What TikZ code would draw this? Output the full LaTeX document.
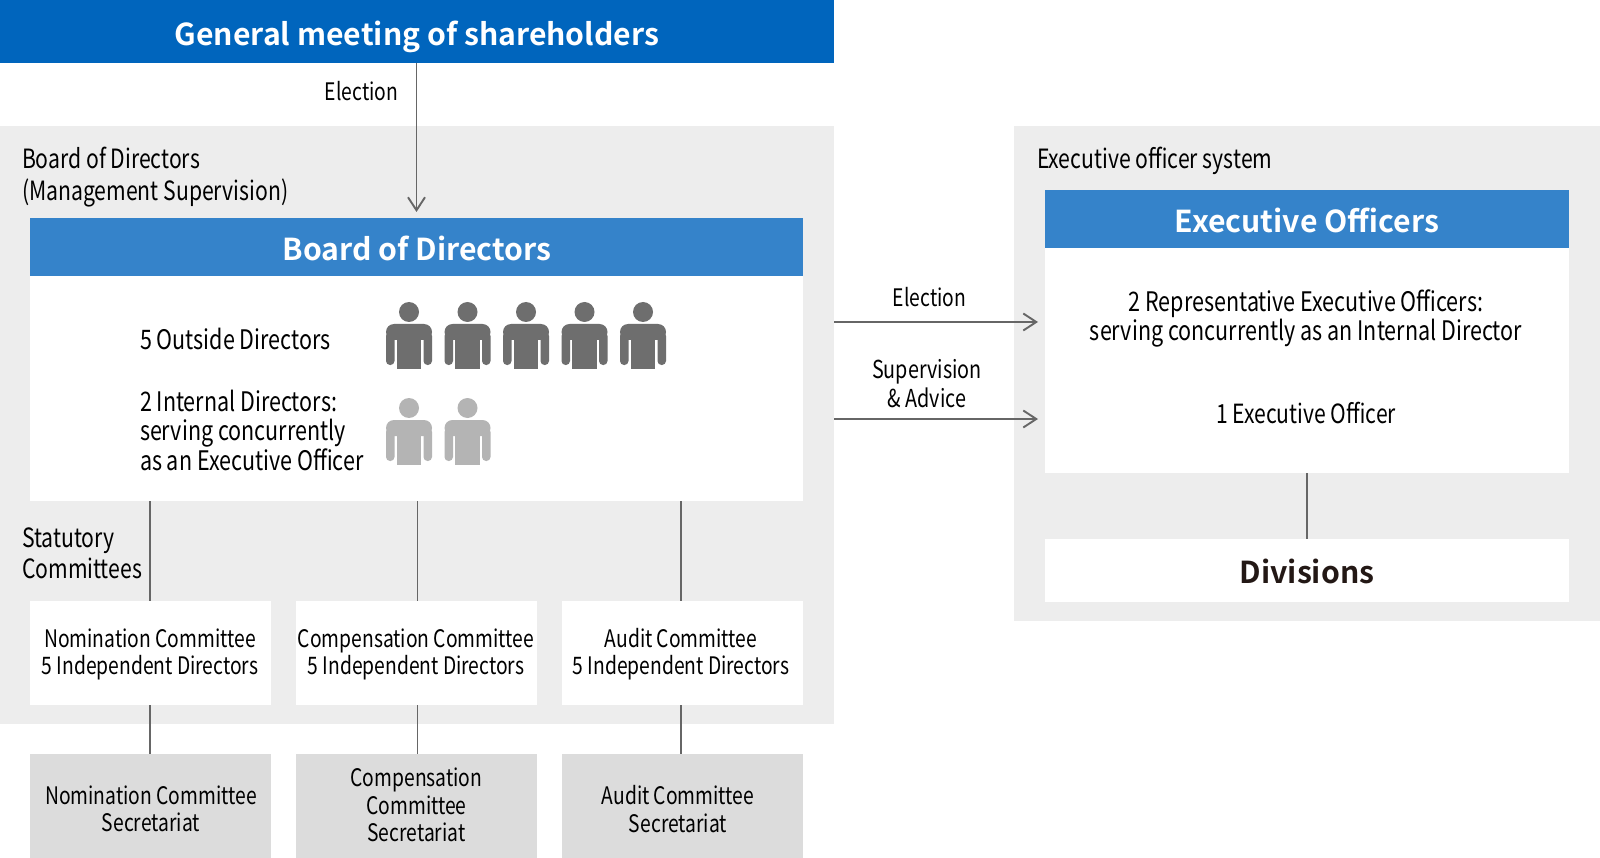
\documentclass[tikz,border=0pt]{standalone}
\usepackage{fontspec}
\usetikzlibrary{arrows.meta}
\setmainfont{Noto Sans CJK JP}[FakeStretch=0.8]
\newfontfamily\headfont{Noto Sans CJK JP}[BoldFont={Noto Sans CJK JP Bold}]
\definecolor{topblue}{HTML}{0065BD}
\definecolor{midblue}{HTML}{3583CA}
\definecolor{panelgray}{HTML}{EDEDED}
\definecolor{secgray}{HTML}{DCDCDC}
\definecolor{linegray}{HTML}{666666}
\definecolor{darkp}{HTML}{6E6E6E}
\definecolor{lightp}{HTML}{B4B4B4}
\definecolor{inkk}{HTML}{231815}
\tikzset{
 x=1pt,y=-1pt,
 areabox/.style={rectangle,inner sep=0pt,outer sep=0pt,anchor=north west},
 head/.style={text=white,font=\headfont\fontsize{30.2}{30}\selectfont\bfseries},
 txt/.style={inner sep=0pt,outer sep=0pt,text=black,font=\fontsize{26.9}{29.5}\selectfont},
 ctxt/.style={txt,align=center},
 smalltxt/.style={ctxt,font=\fontsize{24.1}{27.3}\selectfont},
 midtxt/.style={ctxt,font=\fontsize{24.7}{29}\selectfont},
 ltxt/.style={txt,align=left,anchor=west},
 widetxt/.style={ltxt,font=\fontsize{26.5}{31.5}\selectfont},
 conn/.style={draw=linegray,line width=1.9pt},
 arr/.style={conn,-{Straight Barb[length=13pt,width=17pt,line width=1.9pt]}},
 person/.pic={
  \fill (0,0) circle (10);
  \fill[rounded corners=8pt] (-23,28)--(-23,12)--(23,12)--(23,28)--cycle;
  \fill[rounded corners=4pt] (-23,20)--(-14.5,20)--(-14.5,53)--(-23,53)--cycle;
  \fill[rounded corners=4pt] (23,20)--(14.5,20)--(14.5,53)--(23,53)--cycle;
  \fill (-12.4,20) rectangle (12.4,57);
 }
}
\newcommand{\mybox}[6]{\node[areabox,fill=#6,minimum width=#4pt,minimum height=#5pt] (#1) at (#2,#3) {};}
\begin{document}
\begin{tikzpicture}
\useasboundingbox (0,0) rectangle (1600,858);
\mybox{leftpanel}{0}{126}{834}{598}{panelgray}
\mybox{rightpanel}{1014}{126}{586}{495}{panelgray}
\mybox{gm}{0}{0}{834}{63}{topblue}
\node[head] (gmt) at (417,36.5) {General meeting of shareholders};
\mybox{boardbody}{30}{218}{773}{283}{white}
\mybox{boardhead}{30}{218}{773}{58}{midblue}
\node[head] (bt) at (417,248) {Board of Directors};
\mybox{execbody}{1045}{190}{524}{283}{white}
\mybox{exechead}{1045}{190}{524}{58}{midblue}
\node[head] (et) at (1307,220) {Executive Officers};
\mybox{div}{1045}{539}{524}{63}{white}
\node[font=\headfont\fontsize{30.2}{30}\selectfont\bfseries,text=inkk] (dt) at (1307,571) {Divisions};
\mybox{nom}{30}{601}{241}{104}{white}
\mybox{comp}{296}{601}{241}{104}{white}
\mybox{aud}{562}{601}{241}{104}{white}
\mybox{nomsec}{30}{754}{241}{104}{secgray}
\mybox{compsec}{296}{754}{241}{104}{secgray}
\mybox{audsec}{562}{754}{241}{104}{secgray}
\node[smalltxt] (t1) at (150,654.5) {Nomination Committee\\5 Independent Directors};
\node[smalltxt] (t2) at (416,654.5) {Compensation Committee\\5 Independent Directors};
\node[smalltxt] (t3) at (681,654.5) {Audit Committee\\5 Independent Directors};
\node[smalltxt] (t4) at (151,809) {Nomination Committee\\Secretariat};
\node[smalltxt] (t5) at (416.5,805) {Compensation\\Committee\\Secretariat};
\node[smalltxt] (t6) at (678,809) {Audit Committee\\Secretariat};
\node[widetxt] (t7) at (22,177) {Board of Directors\\(Management Supervision)};
\node[widetxt] (t8) at (22,553.5) {Statutory\\Committees};
\node[widetxt] (t9) at (1037,161) {Executive officer system};
\node[ltxt] (t10) at (140,339) {5 Outside Directors};
\node[ltxt] (t11) at (140,430) {2 Internal Directors:\\serving concurrently\\as an Executive Officer};
\node[ctxt] (t12) at (1306,318.5) {2 Representative Executive Officers:\\serving concurrently as an Internal Director};
\node[ctxt,font=\fontsize{26.4}{29}\selectfont] (t13) at (1306,412.5) {1 Executive Officer};
\node[smalltxt] (t14) at (361.5,91) {Election};
\node[smalltxt] (t15) at (929.5,297) {Election};
\node[midtxt] (t16) at (927,384) {Supervision\\\&\ Advice};
\foreach \i in {0,...,4}{\pic[darkp] at ({409+58.5*\i},312) {person};}
\foreach \i in {0,1}{\pic[lightp] at ({409+58.5*\i},408) {person};}
\coordinate (boardtop) at (416.5,212);
\coordinate (e1) at (1038,322);
\coordinate (e2) at (1038,419);
\coordinate (x1) at (150,0);
\coordinate (x2) at (417.5,0);
\coordinate (x3) at (681,0);
\draw[arr] (gm.south -| boardtop) -- (boardtop);
\draw[arr] (leftpanel.east |- e1) -- (e1);
\draw[arr] (leftpanel.east |- e2) -- (e2);
\draw[conn] (execbody.south -| div) -- (div.north);
\foreach \a/\b/\xx in {nom/nomsec/x1,comp/compsec/x2,aud/audsec/x3}{
 \draw[conn] (boardbody.south -| \xx) -- (\a.north -| \xx);
 \draw[conn] (\a.south -| \xx) -- (\b.north -| \xx);
}
\end{tikzpicture}
\end{document}
